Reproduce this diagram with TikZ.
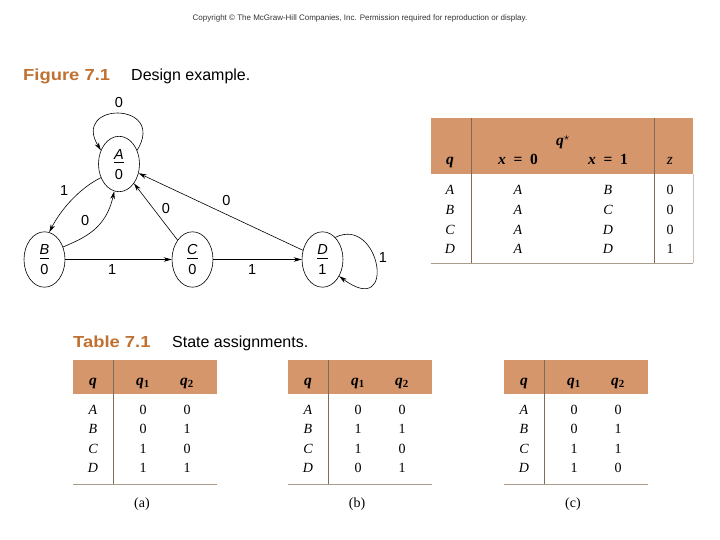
\documentclass[tikz,border=0pt]{standalone}
\usepackage{fontspec}
\setmainfont{Liberation Serif}
\setsansfont{Liberation Sans}
\usepackage{tikz}
\usetikzlibrary{arrows.meta,shapes.geometric}
\definecolor{headtan}{RGB}{213,150,108}
\definecolor{titlebrown}{RGB}{192,112,48}
\definecolor{rulebrown}{RGB}{125,108,92}
\definecolor{rulelight}{RGB}{170,155,140}
\tikzset{
  tblhead/.style={anchor=base, inner sep=0pt, font=\fontsize{15.5}{17}\selectfont\bfseries\itshape},
  tblcell/.style={anchor=base, inner sep=0pt, font=\fontsize{14}{16}\selectfont},
  tblsep/.style={draw=rulebrown, line width=0.6pt},
  tblbottom/.style={draw=rulelight, line width=0.6pt}
}
\newcommand{\StateTxt}[2]{%
  \setlength{\arrayrulewidth}{0.7pt}%
  \begin{tabular}{@{}c@{}}\rule{0pt}{15pt}\textit{#1}\\[-1.5pt]\hline\rule{0pt}{16pt}#2\end{tabular}%
}
\newcommand{\AsgTable}[4]{%
  \fill[headtan] (#1,360) rectangle (#1+144,394);
  \draw[tblsep] (#1+40,360) -- (#1+40,484);
  \draw[tblbottom] (#1,484) -- (#1+144,484);
  \node[tblhead] (#2-q) at (#1+20,385) {q};
  \node[tblhead] (#2-q1) at (#1+70,385) {q\textsubscript{\upshape 1}};
  \node[tblhead] (#2-q2) at (#1+114,385) {q\textsubscript{\upshape 2}};
  \foreach \s/\ua/\ub [count=\i] in {#4} {
    \node[tblcell] (#2-\s) at (#1+20,394.5+19.5*\i) {\textit{\s}};
    \node[tblcell] (#2-\s1) at (#1+70,394.5+19.5*\i) {\ua};
    \node[tblcell] (#2-\s2) at (#1+114,394.5+19.5*\i) {\ub};
  }
  \node[tblcell] (#2-cap) at (#1+69,507) {(#3)};
}

\begin{document}
\begin{tikzpicture}[
    x=1pt,
    y=-1pt,
    fsmstate/.style={ellipse, draw, line width=0.6pt, minimum width=41pt, minimum height=55pt, inner sep=0pt, font=\sffamily\fontsize{14.5}{15}\selectfont},
    fsmedge/.style={-{Stealth[length=8pt,width=4.5pt]}, line width=0.6pt},
    fsmlabel/.style={inner sep=1.5pt, font=\sffamily\fontsize{14.5}{15}\selectfont},
    titleno/.style={anchor=base west, inner sep=0pt, font=\sffamily\bfseries\fontsize{16}{18}\selectfont, text=titlebrown},
    titletxt/.style={anchor=base west, inner sep=0pt, font=\sffamily\fontsize{16}{18}\selectfont}
  ]
  \useasboundingbox (0,0) rectangle (720,540);

  \node[anchor=base, inner sep=0pt, font=\sffamily\fontsize{8}{9}\selectfont, text=black!80] (copy) at (360,21) {Copyright © The McGraw-Hill Companies, Inc. Permission required for reproduction or display.};
  \node[titleno] (figno) at (23,80.5) {\scalebox{1.15}[1]{Figure 7.1}};
  \node[titletxt] (figcap) at (131,80.5) {Design example.};

  \node[fsmstate] (A) at (119,164) {\StateTxt{A}{0}};
  \node[fsmstate] (B) at (44.5,259.5) {\StateTxt{B}{0}};
  \node[fsmstate] (C) at (192.5,259.5) {\StateTxt{C}{0}};
  \node[fsmstate] (D) at (322.5,259.5) {\StateTxt{D}{1}};

  \draw[fsmedge] (A.37) .. controls +(30,-49) and +(-30,-49) .. (A.143) node[fsmlabel, pos=0.5, above=4pt] (lAA) {0};
  \draw[fsmedge] (A.217) .. controls (80,188) and (61,209) .. (B.80) node[fsmlabel, pos=0.4, left=7pt, yshift=4pt] (lAB) {1};
  \draw[fsmedge] (B.34) .. controls (84,238) and (106,229) .. (A.260) node[fsmlabel, pos=0.5, above left=2.5pt] (lBA) {0};
  \draw[fsmedge] (B) -- (C) node[fsmlabel, pos=0.44, below=3.5pt] (lBC) {1};
  \draw[fsmedge] (C) -- (D) node[fsmlabel, pos=0.44, below=3.5pt] (lCD) {1};
  \draw[fsmedge] (C) -- (A) node[fsmlabel, pos=0.55, right=6.5pt] (lCA) {0};
  \draw[fsmedge] (D) -- (A) node[fsmlabel, pos=0.465, above=7pt] (lDA) {0};
  \draw[fsmedge] (D.60) .. controls (380,215) and (398,320) .. (D.-45) node[fsmlabel, pos=0.5, right=1pt, yshift=7pt] (lDD) {1};

  \fill[headtan] (431,118) rectangle (693,174);
  \draw[tblsep] (471,118) -- (471,263);
  \draw[tblsep] (654,118) -- (654,263);
  \draw[tblbottom] (431,263) -- (693,263);
  \draw[tblbottom, draw=rulelight!60] (693,174) -- (693,263);
  \node[tblhead] (nx-q) at (450,165) {q};
  \node[tblhead] (nx-qs) at (563,146) {q\textsuperscript{$\star$}};
  \node[tblhead] (nx-x0) at (518,165) {x\enspace{\upshape =\enspace 0}};
  \node[tblhead] (nx-x1) at (608,165) {x\enspace{\upshape =\enspace 1}};
  \node[tblhead] (nx-z) at (670,165) {\mdseries z};
  \foreach \s/\ua/\ub/\zo [count=\i] in {A/A/B/0,B/A/C/0,C/A/D/0,D/A/D/1} {
    \node[tblcell] (nx-\s) at (450,175.5+19.5*\i) {\textit{\s}};
    \node[tblcell] (nx-\s0) at (518,175.5+19.5*\i) {\textit{\ua}};
    \node[tblcell] (nx-\s1) at (608,175.5+19.5*\i) {\textit{\ub}};
    \node[tblcell] (nx-\s z) at (670,175.5+19.5*\i) {\zo};
  }

  \node[titleno] (tabno) at (73,347) {\scalebox{1.15}[1]{Table 7.1}};
  \node[titletxt] (tabcap) at (172,347) {State assignments.};
  \AsgTable{73}{ta}{a}{A/0/0,B/0/1,C/1/0,D/1/1}
  \AsgTable{288}{tb}{b}{A/0/0,B/1/1,C/1/0,D/0/1}
  \AsgTable{504}{tc}{c}{A/0/0,B/0/1,C/1/1,D/1/0}
\end{tikzpicture}
\end{document}
